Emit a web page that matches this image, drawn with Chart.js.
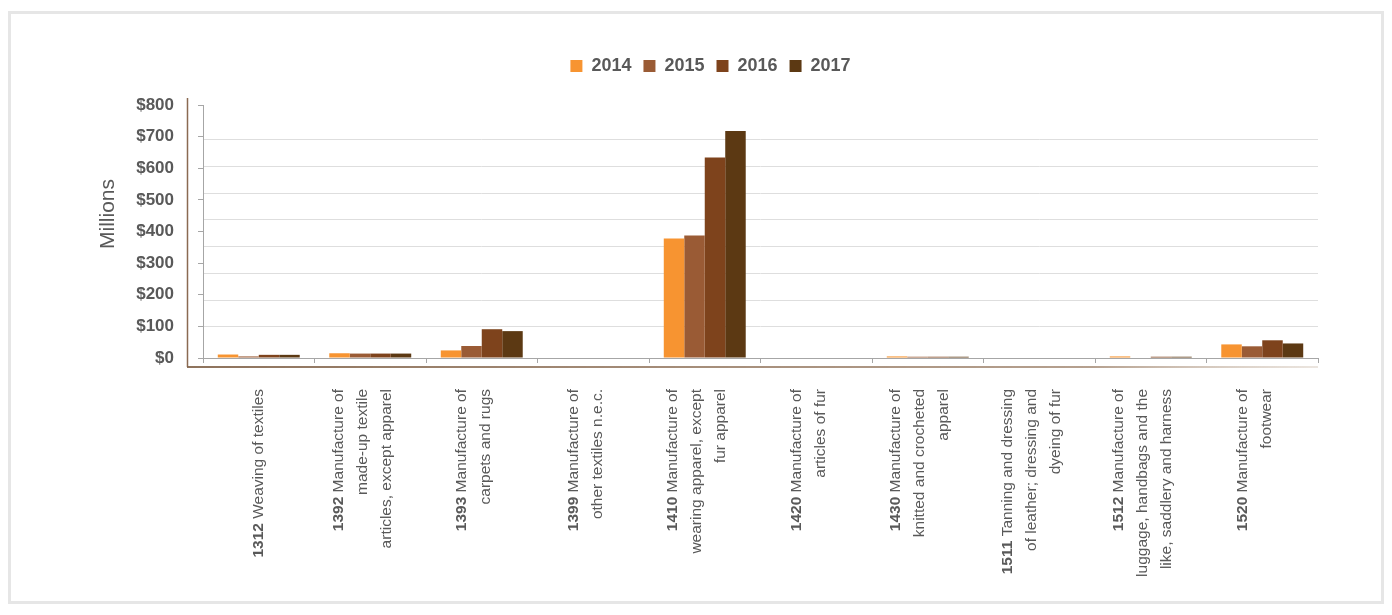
<!DOCTYPE html>
<html>
<head>
<meta charset="utf-8">
<script src="https://cdn.jsdelivr.net/npm/chart.js@4.4.0/dist/chart.umd.min.js"></script>
<style>
  html, body { margin: 0; padding: 0; background: #fff; }
  #frame { position: absolute; left: 8px; top: 11px; width: 1376px; height: 593px; border: 3px solid #e6e6e6; box-sizing: border-box; }
  #wrap { position: absolute; left: 0; top: 0; width: 1392px; height: 615px; }
</style>
</head>
<body>
<div id="frame"></div>
<div id="wrap"><canvas id="myChart"></canvas></div>
<script>
var codes = ["1312", "1392", "1393", "1399", "1410", "1420", "1430", "1511", "1512", "1520"];
var names = [
  ["Weaving of textiles"],
  ["Manufacture of", "made-up textile", "articles, except apparel"],
  ["Manufacture of", "carpets and rugs"],
  ["Manufacture of", "other textiles n.e.c."],
  ["Manufacture of", "wearing apparel, except", "fur apparel"],
  ["Manufacture of", "articles of fur"],
  ["Manufacture of", "knitted and crocheted", "apparel"],
  ["Tanning and dressing", "of leather; dressing and", "dyeing of fur"],
  ["Manufacture of", "luggage, handbags and the", "like, saddlery and harness"],
  ["Manufacture of", "footwear"]
];
var years = ["2014", "2015", "2016", "2017"];
var values2014 = [11, 15, 24, 0, 378, 0, 5, 0, 5, 43];
var values2015 = [5, 14, 38, 0, 387, 0, 4, 0, 0, 37];
var values2016 = [10, 14, 91, 0, 634, 0, 4, 0, 4, 56];
var values2017 = [10, 14, 85, 0, 718, 0, 4, 0, 4, 46];
var yTickValues = [0, 100, 200, 300, 400, 500, 600, 700, 800];

var barColors = ["#F79431", "#9A5B35", "#7E431C", "#5C3913"];
var textColor = "#595959";
var fontFamily = "'Liberation Sans', Arial, sans-serif";

Chart.defaults.font.family = fontFamily;
Chart.defaults.color = textColor;

// push the plot down below the legend
var legendMargin = {
  id: "legendMargin",
  beforeInit: function (chart) {
    var fit = chart.legend.fit;
    chart.legend.fit = function () {
      fit.bind(chart.legend)();
      this.height += 20;
    };
  }
};

// brown frame round the plot, y title
var decorations = {
  id: "decorations",
  beforeDraw: function (chart) {
    var ctx = chart.ctx;
    var area = chart.chartArea;
    ctx.save();
    ctx.lineWidth = 1.5;
    ctx.strokeStyle = "#8a6a52";
    ctx.beginPath();
    ctx.moveTo(area.left - 15.5, area.top - 7);
    ctx.lineTo(area.left - 15.5, area.bottom + 9);
    ctx.stroke();
    var grad = ctx.createLinearGradient(area.left - 16, 0, area.right, 0);
    grad.addColorStop(0, "rgba(130,100,75,0.9)");
    grad.addColorStop(0.8, "rgba(150,120,95,0.7)");
    grad.addColorStop(1, "rgba(190,170,150,0.3)");
    ctx.strokeStyle = grad;
    ctx.lineWidth = 2;
    ctx.beginPath();
    ctx.moveTo(area.left - 16, area.bottom + 9);
    ctx.lineTo(area.right, area.bottom + 9);
    ctx.stroke();

    ctx.translate(108, 214);
    ctx.rotate(-Math.PI / 2);
    ctx.fillStyle = textColor;
    ctx.font = "21px " + fontFamily;
    ctx.textAlign = "center";
    ctx.textBaseline = "middle";
    ctx.fillText("Millions", 0, 0);
    ctx.restore();
  }
};

// rotated category labels with bold code
var xLabels = {
  id: "xLabels",
  afterDraw: function (chart) {
    var ctx = chart.ctx;
    var xScale = chart.scales.x;
    ctx.save();
    ctx.fillStyle = textColor;
    ctx.textBaseline = "middle";
    ctx.textAlign = "right";
    for (var i = 0; i < codes.length; i++) {
      var lines = names[i];
      var n = lines.length;
      var cx = xScale.getPixelForValue(i) - (n > 1 ? 8 : 0);
      for (var k = 0; k < n; k++) {
        var lx = cx + (k - (n - 1) / 2) * 24;
        ctx.save();
        ctx.translate(lx, xScale.top + 31);
        ctx.rotate(-Math.PI / 2);
        ctx.font = "15.5px " + fontFamily;
        var text = k === 0 ? " " + lines[k] : lines[k];
        ctx.fillText(text, 0, 0);
        if (k === 0) {
          var w = ctx.measureText(text).width;
          ctx.font = "bold 15.5px " + fontFamily;
          ctx.fillText(codes[i], -w, 0);
        }
        ctx.restore();
      }
    }
    ctx.restore();
  }
};

var allValues = [values2014, values2015, values2016, values2017];
var datasets = [];
for (var d = 0; d < years.length; d++) {
  datasets.push({
    label: years[d],
    data: allValues[d],
    backgroundColor: barColors[d],
    borderWidth: 0,
    categoryPercentage: 0.735,
    barPercentage: 1.0
  });
}

var canvas = document.getElementById("myChart");
var ctx = canvas.getContext("2d");
var myChart = new Chart(ctx, {
  type: "bar",
  data: {
    labels: codes.map(function (c, i) { return c + " " + names[i].join(" "); }),
    datasets: datasets
  },
  options: {
    responsive: true,
    maintainAspectRatio: false,
    animation: false,
    layout: { padding: { left: 103, right: 74, top: 45, bottom: 0 } },
    scales: {
      x: {
        grid: { drawOnChartArea: false, tickLength: 5, color: "#a6a6a6", offset: true },
        border: { color: "#a6a6a6", width: 1 },
        ticks: { display: false },
        afterFit: function (scale) { scale.height = 257; }
      },
      y: {
        min: yTickValues[0],
        max: yTickValues[yTickValues.length - 1],
        grid: { drawOnChartArea: false, tickLength: 5, color: "#a6a6a6" },
        border: { color: "#a6a6a6", width: 1 },
        ticks: {
          stepSize: 100,
          padding: 24,
          font: { size: 17, weight: "bold" },
          color: textColor,
          callback: function (v) { return "$" + v; }
        },
        afterFit: function (scale) { scale.width = 100; }
      },
      gridY: {
        position: "right",
        min: -1.165,
        max: 8.3,
        grid: {
          drawTicks: false,
          color: function (c) {
            return Number.isInteger(c.tick.value) && c.tick.value >= 0 ? "#dedede" : "rgba(0,0,0,0)";
          }
        },
        border: { display: false },
        ticks: { display: false, stepSize: 1 },
        afterFit: function (scale) { scale.width = 0; }
      }
    },
    plugins: {
      legend: {
        position: "top",
        labels: {
          boxWidth: 12,
          boxHeight: 12,
          padding: 12,
          color: textColor,
          font: { size: 18, weight: "bold" }
        }
      },
      tooltip: { enabled: false }
    }
  },
  plugins: [legendMargin, decorations, xLabels]
});
</script>
</body>
</html>
